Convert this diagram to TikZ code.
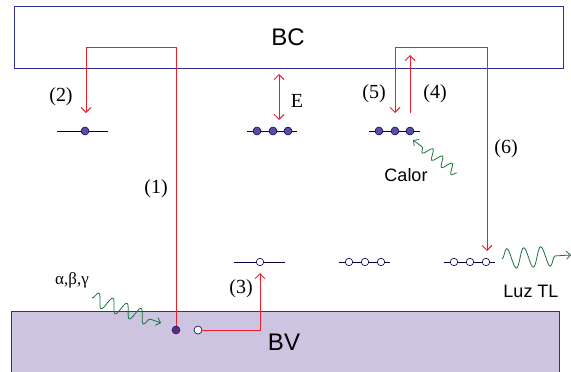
\documentclass[tikz,border=0pt]{standalone}
\usepackage{fontspec}
\setmainfont{Liberation Serif}
\setsansfont{Liberation Sans}
\usetikzlibrary{arrows.meta,decorations.pathmorphing,positioning}
\definecolor{bandline}{RGB}{48,48,145}
\definecolor{bvfill}{RGB}{205,196,226}
\definecolor{trapblue}{RGB}{88,78,160}
\definecolor{holepurple}{RGB}{95,45,135}
\definecolor{transred}{RGB}{236,32,45}
\definecolor{wavegreen}{RGB}{25,115,60}
\tikzset{
  band/.style={draw=bandline, line width=0.9pt},
  level/.style={draw=black!75!blue, line width=0.8pt},
  fulltrap/.style={circle, draw=black!70!blue, fill=trapblue, inner sep=0pt, minimum size=8pt, line width=0.5pt},
  emptytrap/.style={circle, draw=black!70!blue, fill=white, inner sep=0pt, minimum size=7.5pt, line width=0.6pt},
  trans/.style={draw=transred, line width=0.9pt, -{Straight Barb[length=5pt,width=10pt]}},
  photon/.style={draw=wavegreen, line width=0.8pt, -{Straight Barb[length=4pt,width=8pt]},
    decorate, decoration={snake, amplitude=#1, segment length=15pt, post length=10pt}},
  lab/.style={font=\fontsize{20}{20}\selectfont},
  sanslab/.style={font=\sffamily\fontsize{18}{18}\selectfont},
  bandlab/.style={font=\sffamily\fontsize{24}{24}\selectfont}
}
\begin{document}
\begin{tikzpicture}[x=1pt, y=-1pt]
  \useasboundingbox (0,0) rectangle (571,372);
  % bands
  \fill[bvfill] (11,311) rectangle (559,372);
  \draw[band] (11,372) |- (559,311) -- (559,372);
  \draw[band] (14,6) rectangle (563,68);
  \node[bandlab] (bc) at (288,37) {BC};
  \node[bandlab] (bv) at (284,342) {BV};

  % trap levels
  \draw[level] (57,131) -- (108,131);
  \node[fulltrap] (t2) at (85,131) {};
  \draw[level] (247,131) -- (297,131);
  \foreach \i/\x in {1/257,2/273,3/288}
    \node[fulltrap] (tm\i) at (\x,131) {};
  \draw[level] (369,131) -- (420,131);
  \foreach \i/\x in {1/379,2/395,3/410}
    \node[fulltrap] (tr\i) at (\x,131) {};

  \draw[level] (234,262) -- (285,262);
  \node[emptytrap] (h3) at (260,262) {};
  \draw[level] (339,262) -- (390,262);
  \foreach \i/\x in {1/349,2/365,3/381}
    \node[emptytrap] (hm\i) at (\x,262) {};
  \draw[level] (444,262) -- (495,262);
  \foreach \i/\x in {1/454,2/470,3/486}
    \node[emptytrap] (hr\i) at (\x,262) {};

  % electron and hole in BV
  \node[circle, draw=black!70!blue, fill=holepurple, inner sep=0pt, minimum size=8pt] (e1) at (176,330) {};
  \node[emptytrap, minimum size=8pt] (h1) at (198,330) {};

  % transitions
  \coordinate (c1) at (86,47);
  \coordinate (tip2) at (86,113);
  \draw[trans] (e1) |- (c1) -- (tip2);
  \coordinate (tip3) at (260,273);
  \draw[trans] (h1) -| (tip3);
  \coordinate (eup) at (279,74);
  \coordinate (edown) at (279,120);
  \draw[trans, {Straight Barb[length=5pt,width=10pt]}-{Straight Barb[length=5pt,width=10pt]}] (eup) -- (edown);
  \coordinate (from4) at (410,113);
  \coordinate (tip4) at (410,55);
  \draw[trans] (from4) -- (tip4);
  \coordinate (tip5) at (395,113);
  \coordinate (c5) at (395,47);
  \coordinate (c6) at (487,47);
  \coordinate (tip6) at (487,251);
  \draw[trans, {Straight Barb[length=5pt,width=10pt]}-{Straight Barb[length=5pt,width=10pt]}] (tip5) -- (c5) -- (c6) -- (tip6);

  % radiation, heat and light
  \coordinate (rad0) at (92,298);
  \coordinate (rad1) at (161,323);
  \draw[photon=7pt] (rad0) -- (rad1);
  \coordinate (heat0) at (457,173);
  \coordinate (heat1) at (413,140);
  \draw[photon=5pt, decoration={segment length=12pt, post length=8pt}] (heat0) -- (heat1);
  \coordinate (light0) at (502,259);
  \coordinate (light1) at (571,255);
  \draw[photon=10pt, decoration={segment length=17pt, post length=8pt}] (light0) -- (light1);

  % labels
  \node[lab] (l1) at (156,189) {(1)};
  \node[lab] (l2) at (61,97) {(2)};
  \node[lab] (l3) at (241,289) {(3)};
  \node[lab] (l4) at (435,94) {(4)};
  \node[lab] (l5) at (374,94) {(5)};
  \node[lab] (l6) at (506,149) {(6)};
  \node[lab] (le) at (297,101) {E};
  \node[font=\fontsize{17}{17}\selectfont] (lrad) at (72,280) {α,β,γ};
  \node[sanslab] (lheat) at (406,175) {Calor};
  \node[sanslab] (llight) at (531,291) {Luz TL};
\end{tikzpicture}
\end{document}
